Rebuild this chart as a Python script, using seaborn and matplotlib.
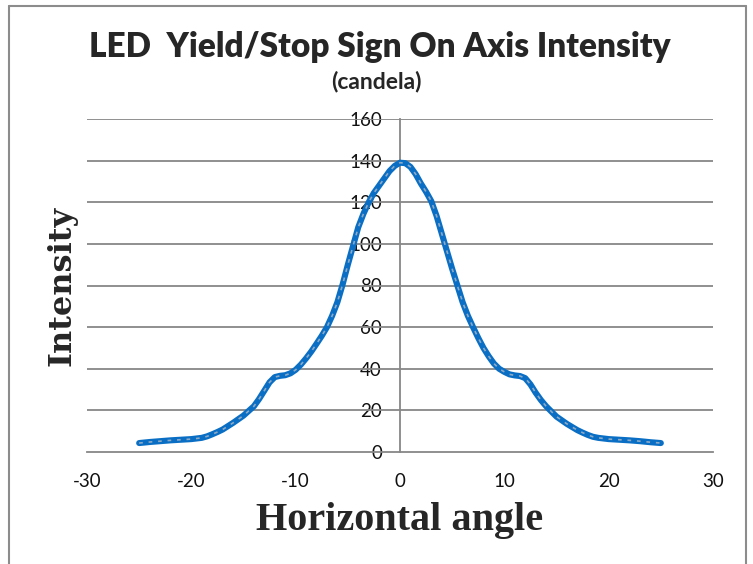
import matplotlib
matplotlib.use("Agg")
import matplotlib.pyplot as plt
from matplotlib.lines import Line2D
import seaborn as sns
import pandas as pd

# Measured on-axis intensity (candela) versus horizontal angle (degrees)
angles = [-25, -24, -23, -22, -21, -20, -19, -18.5, -18, -17.5, -17, -16, -15, -14,
          -13.5, -13, -12.5, -12, -11.5, -11, -10.5, -10, -9.5, -9, -8.5, -8,
          -7.5, -7, -6.5, -6, -5.5, -5, -4.5, -4, -3.5, -3, -2.5, -2, -1.5, -1, -0.5, 0,
          0.5, 1, 1.5, 2, 2.5, 3, 3.5, 4, 4.5, 5, 5.5, 6, 6.5, 7, 7.5, 8, 8.5,
          9, 9.5, 10, 10.5, 11, 11.5, 12, 12.5, 13, 13.5, 14, 15, 16, 17, 17.5,
          18, 18.5, 19, 20, 21, 22, 23, 24, 25]
intensity = [4.3, 4.8, 5.2, 5.6, 5.9, 6.2, 6.8, 7.5, 8.5, 9.6, 10.8, 14.0, 17.5, 22.0,
             25.5, 29.5, 33.5, 36.0, 36.6, 36.9, 37.8, 39.5, 42.0, 45.0, 48.3, 52.0,
             55.8, 60.0, 65.5, 72.0, 80.5, 90.0, 99.0, 108.0, 114.5, 120.0, 124.5, 128.0, 131.5, 135.0, 137.5, 139.0,
             138.8, 137.0, 133.5, 129.0, 125.0, 120.5, 113.5, 105.0, 96.5, 88.0, 80.0, 72.0, 65.5, 60.0, 54.8, 50.0, 46.0,
             42.5, 40.0, 38.5, 37.3, 36.8, 36.5, 35.5, 32.5, 28.5, 25.0, 22.0, 17.0, 13.5, 10.5, 9.3,
             8.2, 7.3, 6.8, 6.2, 5.9, 5.6, 5.2, 4.7, 4.3]

x_ticks = [-30, -20, -10, 0, 10, 20, 30]
y_ticks = [0, 20, 40, 60, 80, 100, 120, 140, 160]

df = pd.DataFrame({"angle": angles, "intensity": intensity})

sns.set_style("white")
plt.rcParams["font.family"] = ["Lato", "DejaVu Sans"]

fig = plt.figure(figsize=(7.53, 5.64), dpi=100)
ax = fig.add_axes([87 / 753, 1 - 452 / 564, 626 / 753, 333 / 564])

grid_color = "#878787"
for y in y_ticks[1:]:
    ax.axhline(y, color=grid_color, lw=1.3, zorder=1)

sns.lineplot(data=df, x="angle", y="intensity", ax=ax, color="#0A6FC4",
             lw=4.4, solid_capstyle="round", solid_joinstyle="round", zorder=3)
ax.plot(df["angle"], df["intensity"], color="#8EA9C4", lw=1.2,
        dashes=(2.2, 3.5), zorder=4)

ax.set_xlim(-30, 30)
ax.set_ylim(0, 160)
ax.set_xticks(x_ticks)
ax.set_yticks(y_ticks)
ax.set_xticklabels([str(v) for v in x_ticks])
ax.set_yticklabels([str(v) for v in y_ticks])

for side in ["top", "right"]:
    ax.spines[side].set_visible(False)
ax.spines["left"].set_position(("data", 0))
ax.spines["left"].set_color(grid_color)
ax.spines["left"].set_linewidth(1.3)
ax.spines["bottom"].set_color(grid_color)
ax.spines["bottom"].set_linewidth(1.3)

ax.tick_params(axis="y", length=0, pad=13, labelsize=13.5, labelcolor="#111111")
ax.tick_params(axis="x", direction="out", length=6, width=1.3, color=grid_color,
               pad=9, labelsize=13.5, labelcolor="#111111")

ax.set_xlabel("Horizontal angle", family="Liberation Serif", fontweight="bold",
              fontsize=29, va="center")
ax.xaxis.set_label_coords(0.5, -0.205)
ax.set_ylabel("Intensity", family="DejaVu Serif", fontweight="bold",
              fontsize=23, va="center")
ax.yaxis.set_label_coords(-0.04, 0.5)

fig.text(380 / 753, 1 - 47 / 564, "LED  Yield/Stop Sign On Axis Intensity",
         ha="center", va="center", fontsize=24, fontweight="heavy")
fig.text(376 / 753, 1 - 82 / 564, "(candela)", ha="center", va="center",
         fontsize=16.5, fontweight="bold")

# chart frame (bottom edge falls outside the canvas)
frame_color = "#8C8C8C"
fig.add_artist(Line2D([9 / 753, 9 / 753], [0, 1 - 6 / 564], transform=fig.transFigure,
                      color=frame_color, lw=1.5))
fig.add_artist(Line2D([9 / 753, 746 / 753], [1 - 6 / 564, 1 - 6 / 564],
                      transform=fig.transFigure, color=frame_color, lw=1.5))
fig.add_artist(Line2D([746 / 753, 746 / 753], [0, 1 - 6 / 564], transform=fig.transFigure,
                      color=frame_color, lw=1.5))

fig.savefig("out.png", dpi=100, facecolor="white")
